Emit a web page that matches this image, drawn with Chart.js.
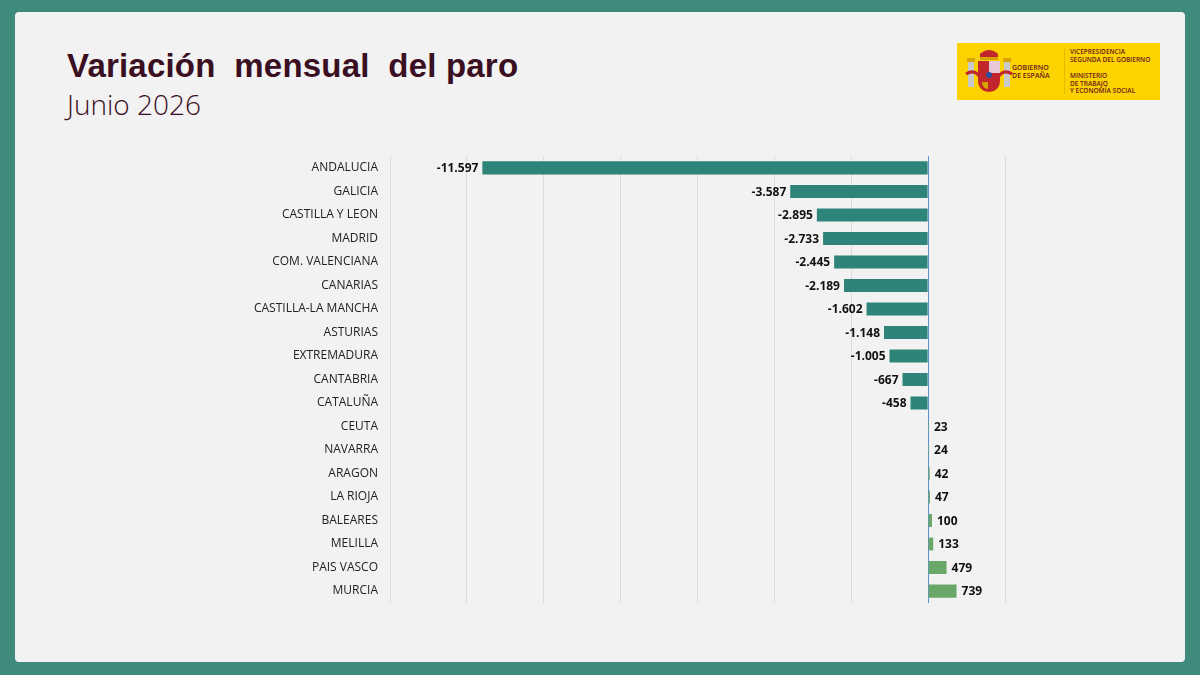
<!DOCTYPE html>
<html>
<head>
<meta charset="utf-8">
<script src="https://cdn.jsdelivr.net/npm/chart.js@4.4.1/dist/chart.umd.min.js"></script>
<style>
  body { margin: 0; width: 1200px; height: 675px; background: #3e8b7e; overflow: hidden; }
  .panel { position: absolute; left: 15px; top: 12px; width: 1170px; height: 650px; background: #f2f2f2; border-radius: 4px; }
  .title { position: absolute; left: 67px; top: 47px; font: bold 33px "Liberation Sans", Arial, sans-serif; color: #3a0f22; white-space: pre; letter-spacing: 0.2px; }
  .subtitle { position: absolute; left: 67px; top: 85px; font: 300 28px "Open Sans", sans-serif; color: #3a0f22; }
  .logo { position: absolute; left: 957px; top: 43px; width: 203px; height: 57px; background: #fcd200; font-family: "Open Sans", sans-serif; color: #6a1818; }
  .logo .g { position: absolute; left: 55px; top: 21px; font-size: 7px; line-height: 8px; font-weight: 600; }
  .logo .v { position: absolute; left: 113px; top: 5px; font-size: 6.5px; line-height: 7.5px; font-weight: 600; }
  .logo .m { position: absolute; left: 113px; top: 29px; font-size: 6.5px; line-height: 7.5px; font-weight: 600; }
  .logo .sep { position: absolute; left: 107px; top: 6px; width: 1px; height: 45px; background: #e8b800; }
  #wrap { position: absolute; left: 240px; top: 145px; width: 780px; height: 469px; }
</style>
</head>
<body>
<div class="panel"></div>
<div class="title">Variación  mensual  del paro</div>
<div class="subtitle">Junio 2026</div>
<div class="logo">
  <svg width="50" height="57" style="position:absolute;left:7px;top:0">
    <rect x="4" y="18" width="6" height="26" fill="#c9c9c9"/>
    <rect x="40" y="18" width="6" height="26" fill="#c9c9c9"/>
    <rect x="3" y="15" width="8" height="4" fill="#d8a400"/>
    <rect x="39" y="15" width="8" height="4" fill="#d8a400"/>
    <path d="M2 31 Q10 26 15 33" stroke="#c0262c" stroke-width="3" fill="none"/>
    <path d="M48 31 Q40 26 35 33" stroke="#c0262c" stroke-width="3" fill="none"/>
    <path d="M16 11 Q25 3 34 11 L34 15 L16 15 Z" fill="#c0262c"/>
    <rect x="16" y="14" width="18" height="3" fill="#d8a400"/>
    <path d="M14 18 L36 18 L36 37 Q36 48 25 49 Q14 48 14 37 Z" fill="#c0262c"/>
    <rect x="25" y="18" width="11" height="12" fill="#e8c8d8"/>
    <circle cx="25" cy="32" r="3" fill="#2a4fa0"/>
    <path d="M18 39 L24 39 L24 46 Q18 45 18 39 Z" fill="#d8a400"/>
  </svg>
  <div class="g">GOBIERNO<br>DE ESPAÑA</div>
  <div class="sep"></div>
  <div class="v">VICEPRESIDENCIA<br>SEGUNDA DEL GOBIERNO</div>
  <div class="m">MINISTERIO<br>DE TRABAJO<br>Y ECONOMÍA SOCIAL</div>
</div>
<div id="wrap"><canvas id="c"></canvas></div>
<script>
// Comunidades autónomas, ordenadas como en la imagen
const regions = [
  'ANDALUCIA', 'GALICIA', 'CASTILLA Y LEON', 'MADRID', 'COM. VALENCIANA',
  'CANARIAS', 'CASTILLA-LA MANCHA', 'ASTURIAS', 'EXTREMADURA', 'CANTABRIA',
  'CATALUÑA', 'CEUTA', 'NAVARRA', 'ARAGON', 'LA RIOJA', 'BALEARES',
  'MELILLA', 'PAIS VASCO', 'MURCIA'
];
const variation = [
  -11597, -3587, -2895, -2733, -2445, -2189, -1602, -1148, -1005, -667,
  -458, 23, 24, 42, 47, 100, 133, 479, 739
];
const axisMin = -14000;
const axisMax = 2000;
const axisStep = 2000;

const negColor = '#2e8478';
const posColor = '#6aa86a';

const fmt = v => v.toLocaleString('es-ES', { useGrouping: 'always' });

// Etiquetas de valor al final de cada barra
const valueLabels = {
  id: 'valueLabels',
  afterDatasetsDraw(chart) {
    const ctx = chart.ctx;
    const meta = chart.getDatasetMeta(0);
    ctx.save();
    ctx.font = 'bold 12px "Open Sans", sans-serif';
    ctx.fillStyle = '#111';
    ctx.textBaseline = 'middle';
    meta.data.forEach((bar, i) => {
      const v = variation[i];
      if (v < 0) {
        ctx.textAlign = 'right';
        ctx.fillText(fmt(v), bar.x - 4, bar.y + 1);
      } else {
        ctx.textAlign = 'left';
        ctx.fillText(fmt(v), bar.x + 5, bar.y + 1);
      }
    });
    ctx.restore();
  }
};

new Chart(document.getElementById('c'), {
  type: 'bar',
  data: {
    labels: regions,
    datasets: [{
      data: variation,
      backgroundColor: variation.map(v => v < 0 ? negColor : posColor),
      borderWidth: 0,
      categoryPercentage: 1,
      barPercentage: 0.56
    }]
  },
  options: {
    indexAxis: 'y',
    responsive: true,
    maintainAspectRatio: false,
    animation: false,
    layout: { padding: { top: 5, right: 15, bottom: 8, left: 0 } },
    plugins: { legend: { display: false }, tooltip: { enabled: false } },
    scales: {
      x: {
        min: axisMin,
        max: axisMax,
        ticks: { display: false, stepSize: axisStep },
        border: { display: false },
        grid: {
          color: c => c.tick && c.tick.value === 0 ? '#5b8fd0' : '#dcdcdc',
          lineWidth: 1,
          drawTicks: false
        }
      },
      y: {
        afterFit: s => { s.width = 150; },
        border: { display: false },
        grid: { display: false },
        ticks: {
          color: '#222',
          padding: 4,
          font: { family: '"Open Sans", sans-serif', size: 12 }
        }
      }
    }
  },
  plugins: [valueLabels]
});
</script>
</body>
</html>
